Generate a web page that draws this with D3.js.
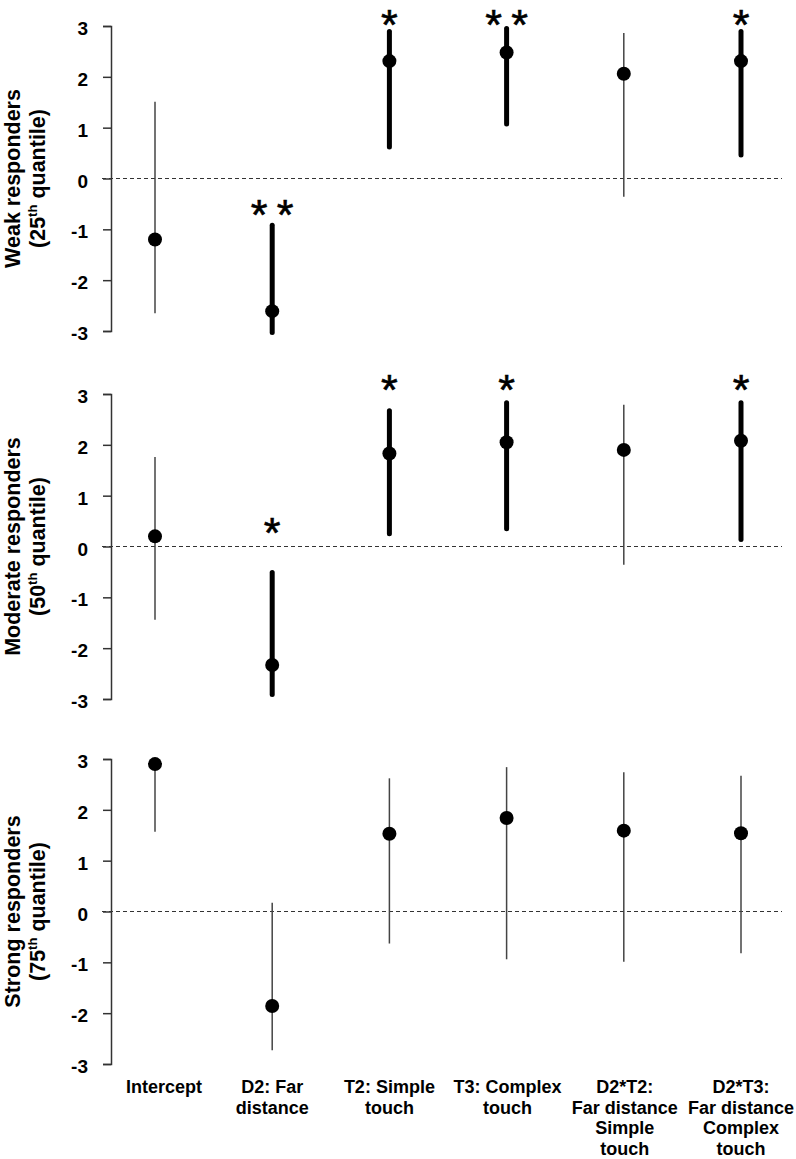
<!DOCTYPE html>
<html>
<head>
<meta charset="utf-8">
<script src="https://cdn.jsdelivr.net/npm/d3@7"></script>
<style>
  html, body { margin: 0; padding: 0; background: #fff; }
  svg { display: block; font-family: "Liberation Sans", Arial, sans-serif; }
</style>
</head>
<body>
<svg id="chart" width="796" height="1159"></svg>
<script>
// ---- data ----
const categories = ["Intercept", "D2: Far distance", "T2: Simple touch", "T3: Complex touch",
  "D2*T2: Far distance Simple touch", "D2*T3: Far distance Complex touch"];
const categoryLines = [["Intercept"], ["D2: Far", "distance"], ["T2: Simple", "touch"],
  ["T3: Complex", "touch"], ["D2*T2:", "Far distance", "Simple", "touch"],
  ["D2*T3:", "Far distance", "Complex", "touch"]];
const panelNames = ["Weak responders", "Moderate responders", "Strong responders"];
const quantiles = ["25", "50", "75"];
const yTicks = [-3, -2, -1, 0, 1, 2, 3];

const est25 = [-1.20, -2.61, 2.31, 2.48, 2.06, 2.31];
const lo25  = [-2.65, -3.03, 0.62, 1.07, -0.36, 0.46];
const hi25  = [1.51, -0.92, 2.89, 2.95, 2.86, 2.89];
const sig25 = [0, 2, 1, 2, 0, 1];
const sigY25 = [null, -0.52, 3.27, 3.27, null, 3.27];

const est50 = [0.20, -2.33, 1.83, 2.05, 1.90, 2.08];
const lo50  = [-1.44, -2.91, 0.25, 0.35, -0.36, 0.14];
const hi50  = [1.76, -0.51, 2.67, 2.83, 2.79, 2.83];
const sig50 = [0, 1, 1, 1, 0, 1];
const sigY50 = [null, 0.45, 3.27, 3.27, null, 3.27];

const est75 = [2.90, -1.86, 1.53, 1.84, 1.59, 1.54];
const lo75  = [1.57, -2.73, -0.63, -0.94, -0.99, -0.82];
const hi75  = [2.90, 0.17, 2.62, 2.84, 2.74, 2.67];
const sig75 = [0, 0, 0, 0, 0, 0];
const sigY75 = [null, null, null, null, null, null];

const panels = [
  { name: panelNames[0], q: quantiles[0], est: est25, lo: lo25, hi: hi25, sig: sig25, sigY: sigY25 },
  { name: panelNames[1], q: quantiles[1], est: est50, lo: lo50, hi: hi50, sig: sig50, sigY: sigY50 },
  { name: panelNames[2], q: quantiles[2], est: est75, lo: lo75, hi: hi75, sig: sig75, sigY: sigY75 }
];

// ---- layout ----
const svg = d3.select("#chart");
const panelTops = [26, 394, 759];
const panelH = 305;
const axisX = 111;
const x = d3.scaleLinear().domain([0, categories.length - 1]).range([155, 741]);
const FONT = '"Liberation Sans", Arial, sans-serif';
const STAR_FS = 43;

panels.forEach((p, pi) => {
  const top = panelTops[pi];
  const y = d3.scaleLinear().domain([-3, 3]).range([top + panelH, top]);
  const g = svg.append("g");

  // zero dashed line
  g.append("line")
    .attr("x1", 102).attr("x2", 782)
    .attr("y1", y(0)).attr("y2", y(0))
    .attr("stroke", "#333").attr("stroke-width", 1.2)
    .attr("stroke-dasharray", "4,3");

  // y axis
  const ax = g.append("g")
    .attr("transform", `translate(${axisX},0)`)
    .call(d3.axisLeft(y).tickValues(yTicks).tickSize(8).tickPadding(15)
      .tickFormat(d => d < 0 ? "-" + Math.abs(d) : String(d)));
  ax.select(".domain").attr("stroke", "#333").attr("stroke-width", 1.5);
  ax.selectAll(".tick line").attr("stroke", "#333").attr("stroke-width", 1.5);
  ax.selectAll(".tick text")
    .attr("font-family", FONT).attr("font-size", 19).attr("font-weight", "bold")
    .attr("fill", "#000").attr("dy", "0.45em");

  // title
  const cy = y(0);
  g.append("text")
    .attr("transform", `translate(19.5,${cy}) rotate(-90)`)
    .attr("text-anchor", "middle")
    .attr("font-family", FONT).attr("font-size", 21.5).attr("font-weight", "bold")
    .text(p.name);
  const t2 = g.append("text")
    .attr("transform", `translate(45,${cy}) rotate(-90)`)
    .attr("text-anchor", "middle")
    .attr("font-family", FONT).attr("font-size", 21.5).attr("font-weight", "bold");
  t2.append("tspan").text("(" + p.q);
  t2.append("tspan").attr("font-size", 13).attr("dy", -8).text("th");
  t2.append("tspan").attr("dy", 8).text(" quantile)");

  // CI lines
  const idx = d3.range(categories.length);
  g.selectAll("line.ci").data(idx).join("line")
    .attr("class", "ci")
    .attr("x1", i => x(i)).attr("x2", i => x(i))
    .attr("y1", i => y(p.lo[i])).attr("y2", i => y(p.hi[i]))
    .attr("stroke", i => p.sig[i] > 0 ? "#000" : "#444")
    .attr("stroke-width", i => p.sig[i] > 0 ? 5 : 1.5)
    .attr("stroke-linecap", i => p.sig[i] > 0 ? "round" : "butt");

  // points
  g.selectAll("circle.pt").data(idx).join("circle")
    .attr("class", "pt")
    .attr("cx", i => x(i)).attr("cy", i => y(p.est[i]))
    .attr("r", 7).attr("fill", "#000");

  // asterisks (glyph centre ~0.55em above baseline; keep font box inside the page)
  const minCenter = STAR_FS * (0.905 - 0.55);
  idx.forEach(i => {
    const n = p.sig[i];
    if (!n) return;
    const cyStar = Math.max(y(p.sigY[i]), minCenter);
    const offs = n === 1 ? [0] : [-13, 13];
    offs.forEach(o => {
      g.append("text")
        .attr("x", x(i) + o).attr("y", cyStar + STAR_FS * 0.55)
        .attr("text-anchor", "middle")
        .attr("font-family", FONT).attr("font-size", STAR_FS)
        .attr("stroke", "#000").attr("stroke-width", 0.6)
        .attr("fill", "#000")
        .text("*");
    });
  });
});

// x category labels
const labelDx = [9, 0, 0, 1, 1, 0];
const lab = svg.append("g");
categoryLines.forEach((lines, i) => {
  const t = lab.append("text")
    .attr("text-anchor", "middle")
    .attr("font-family", FONT).attr("font-size", 18).attr("font-weight", "bold")
    .attr("fill", "#000");
  lines.forEach((ln, j) => {
    t.append("tspan").attr("x", x(i) + labelDx[i]).attr("y", 1093 + j * 20.5).text(ln);
  });
});
</script>
</body>
</html>
